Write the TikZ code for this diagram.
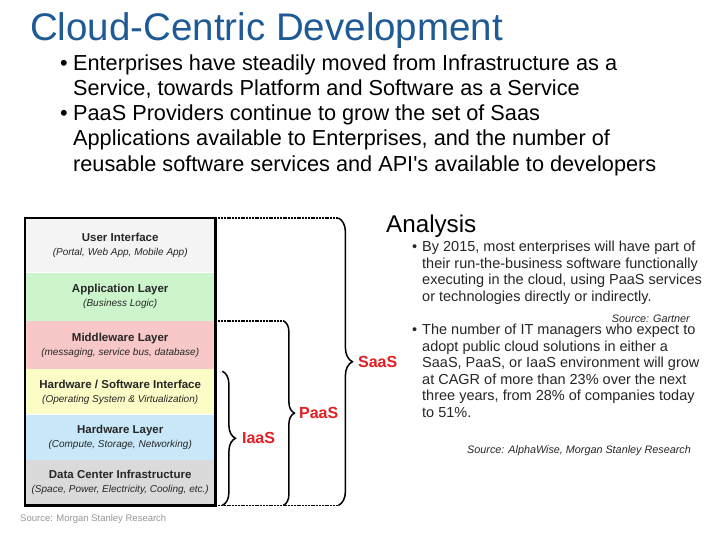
\documentclass[tikz,border=0pt]{standalone}
\usepackage{fontspec}
\setmainfont{Liberation Sans}
\usepackage{xcolor}
\usetikzlibrary{positioning, decorations.pathreplacing, calc}
\definecolor{titleblue}{RGB}{30, 90, 150}
\definecolor{uigray}{RGB}{244, 244, 244}
\definecolor{appgreen}{RGB}{204, 245, 204}
\definecolor{midpink}{RGB}{248, 200, 200}
\definecolor{hwsyellow}{RGB}{252, 252, 198}
\definecolor{hwblue}{RGB}{200, 232, 250}
\definecolor{dcgray}{RGB}{218, 218, 218}
\definecolor{svcred}{RGB}{225, 30, 35}
\definecolor{srcgray}{RGB}{150, 150, 150}
\newcommand{\laysub}[1]{{\fontsize{10}{14}\selectfont\mdseries\itshape #1}}
\newcommand{\bigbul}{\makebox[13pt][l]{\textbullet}}
\newcommand{\smallbul}{\makebox[10pt][l]{\textbullet}}

\begin{document}
\begin{tikzpicture}[
    x=1pt, y=-1pt,
    % Styles
    layerbox/.style={fill=#1, minimum width=190pt, inner sep=0pt, align=center, text=black!85, font=\fontsize{11.5}{14}\selectfont\bfseries},
    dotline/.style={line width=1.5pt, dash pattern=on 2pt off 0.8pt},
    svcbrace/.style={decorate, decoration={brace, amplitude=#1}, line width=1.5pt},
    svclabel/.style={anchor=west, text=svcred, inner sep=0pt, font=\fontsize{16}{16}\selectfont\bfseries},
    bigtext/.style={anchor=base west, align=left, inner sep=0pt, font=\fontsize{21.7}{25}\selectfont},
    smalltext/.style={anchor=base west, align=left, inner sep=0pt, text=black!85, font=\fontsize{14.5}{16.5}\selectfont},
    srcnote/.style={anchor=base east, inner sep=0pt, text=black!85, font=\fontsize{10.8}{12}\selectfont\itshape}
]
    \useasboundingbox [fill=white] (0,0) rectangle (728,546);

    % Title and top bullets (multi-line nodes sit on their last baseline)
    \node (title) [anchor=base west, inner sep=0pt, text=titleblue, font=\fontsize{38.5}{40}\selectfont] at (30,40) {Cloud-Centric Development};
    \node (top1) [bigtext] at (60,95) {\bigbul Enterprises have steadily moved from Infrastructure as a\\
        \hspace*{13pt}Service, towards Platform and Software as a Service};
    \node (top2) [bigtext, font=\fontsize{21.7}{25.3}\selectfont] at (60,171) {\bigbul PaaS Providers continue to grow the set of Saas\\
        \hspace*{13pt}Applications available to Enterprises, and the number of\\
        \hspace*{13pt}reusable software services and API\textquotesingle s available to developers};

    % Layer stack
    \node (ui) [layerbox=uigray, minimum height=54pt, anchor=north west] at (25,218) {User Interface\\\laysub{(Portal, Web App, Mobile App)}};
    \node (app) [layerbox=appgreen, minimum height=48pt, below=0pt of ui] {Application Layer\\\laysub{(Business Logic)}};
    \node (mid) [layerbox=midpink, minimum height=48pt, below=0pt of app] {Middleware Layer\\\laysub{(messaging, service bus, database)}};
    \node (hws) [layerbox=hwsyellow, minimum height=45pt, below=0pt of mid] {Hardware / Software Interface\\\laysub{(Operating System \& Virtualization)}};
    \node (hw) [layerbox=hwblue, minimum height=45pt, below=0pt of hws] {Hardware Layer\\\laysub{(Compute, Storage, Networking)}};
    \node (dc) [layerbox=dcgray, minimum height=45pt, below=0pt of hw] {Data Center Infrastructure\\\laysub{(Space, Power, Electricity, Cooling, etc.)}};
    \draw [line width=2.5pt] (ui.north west) rectangle (dc.south east);

    \node (msrc) [anchor=base west, inner sep=0pt, text=srcgray, font=\fontsize{9.5}{11}\selectfont] at (20,521) {Source: Morgan Stanley Research};

    % Braces
    \coordinate (saastop) at ($(ui.north east)+(123,0)$);
    \coordinate (saasbot) at (saastop |- dc.south);
    \coordinate (paastop) at ($(app.south east)+(68,0)$);
    \coordinate (paasbot) at (paastop |- dc.south);
    \coordinate (iaastop) at ($(mid.south east)+(7,2)$);
    \coordinate (iaasbot) at (iaastop |- dc.south);

    \draw [dotline] (ui.north east) -- (saastop);
    \draw [dotline] (app.south east) -- (paastop);
    \draw [dotline] (dc.south east) -- (saasbot);

    \draw [svcbrace=14pt] (saastop) -- (saasbot) node (saas) [svclabel, midway, xshift=19pt] {SaaS};
    \draw [svcbrace=11pt] (paastop) -- (paasbot) node (paas) [svclabel, midway, xshift=15pt] {PaaS};
    \draw [svcbrace=13pt] (iaastop) -- (iaasbot) node (iaas) [svclabel, midway, xshift=19pt] {IaaS};

    % Analysis
    \node (ana) [anchor=base west, inner sep=0pt, font=\fontsize{24.2}{26}\selectfont] at (386,232) {Analysis};
    \node (an1) [smalltext] at (412,301) {\smallbul By 2015, most enterprises will have part of\\
        \hspace*{10pt}their run-the-business software functionally\\
        \hspace*{10pt}executing in the cloud, using PaaS services\\
        \hspace*{10pt}or technologies directly or indirectly.};
    \node (gsrc) [srcnote] at (690,322) {Source: Gartner};
    \node (an2) [smalltext] at (412,417) {\smallbul The number of IT managers who expect to\\
        \hspace*{10pt}adopt public cloud solutions in either a\\
        \hspace*{10pt}SaaS, PaaS, or IaaS environment will grow\\
        \hspace*{10pt}at CAGR of more than 23\% over the next\\
        \hspace*{10pt}three years, from 28\% of companies today\\
        \hspace*{10pt}to 51\%.};
    \node (asrc) [srcnote] at (691,453) {Source: AlphaWise, Morgan Stanley Research};
\end{tikzpicture}
\end{document}
